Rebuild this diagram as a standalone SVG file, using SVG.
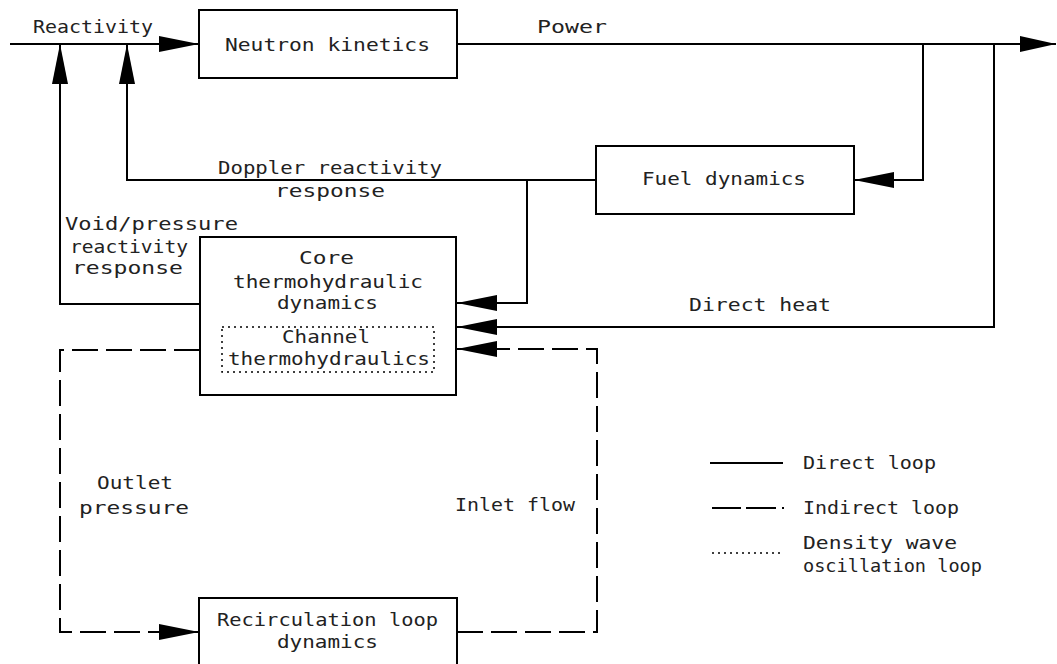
<svg xmlns="http://www.w3.org/2000/svg" width="1057" height="664" viewBox="0 0 1057 664">
<style>
.box{fill:#fff;stroke:#000;stroke-width:2}
.ln{fill:none;stroke:#000;stroke-width:2}
.dash{fill:none;stroke:#000;stroke-width:2;stroke-dasharray:26 8}
.dot{fill:none;stroke:#000;stroke-width:1.5;stroke-dasharray:2 4}
.t{font-family:"DejaVu Sans Mono","Liberation Mono",monospace;font-size:17px;fill:#222;dominant-baseline:central}
</style>
<defs>
<marker id="ah" markerUnits="userSpaceOnUse" viewBox="0 0 40 16" markerWidth="40" markerHeight="16" refX="40" refY="8" orient="auto">
<path d="M0,0 L40,8 L0,16 Z" fill="#000"/>
</marker>
<marker id="ah2" markerUnits="userSpaceOnUse" viewBox="0 0 36 16" markerWidth="36" markerHeight="16" refX="36" refY="8" orient="auto">
<path d="M0,0 L36,8 L0,16 Z" fill="#000"/>
</marker>
</defs>
<rect width="1057" height="664" fill="#fff"/>
<g id="connectors">
<path class="ln" d="M10,44 H199" marker-end="url(#ah)"/>
<path class="ln" d="M457,44 H1056" marker-end="url(#ah2)"/>
<path class="ln" d="M923,44 V180 H854" marker-end="url(#ah)"/>
<path class="ln" d="M994,44 V327 H457" marker-end="url(#ah)"/>
<path class="ln" d="M596,180 H127 V44" marker-end="url(#ah)"/>
<path class="ln" d="M527,180 V303 H457" marker-end="url(#ah)"/>
<path class="ln" d="M200,304 H60 V44" marker-end="url(#ah)"/>
<path class="dash" d="M200,350 H60 V632 H199" marker-end="url(#ah)"/>
<path class="dash" d="M457,632 H597 V349 H457" marker-end="url(#ah)"/>
<path class="dot" d="M200,350 H222"/>
<path class="dot" d="M434,349 H457"/>
</g>
<g id="neutron-kinetics">
<rect class="box" x="199" y="10" width="258" height="68"/>
<text class="t" x="225" y="45" textLength="205" lengthAdjust="spacingAndGlyphs">Neutron kinetics</text>
</g>
<g id="fuel-dynamics">
<rect class="box" x="596" y="146" width="258" height="68"/>
<text class="t" x="642" y="179" textLength="164" lengthAdjust="spacingAndGlyphs">Fuel dynamics</text>
</g>
<g id="core">
<rect class="box" x="200" y="237" width="256" height="158"/>
<text class="t" x="299" y="258" textLength="55" lengthAdjust="spacingAndGlyphs">Core</text>
<text class="t" x="233" y="282" textLength="190" lengthAdjust="spacingAndGlyphs">thermohydraulic</text>
<text class="t" x="277" y="303" textLength="101" lengthAdjust="spacingAndGlyphs">dynamics</text>
</g>
<g id="channel">
<rect class="dot" x="222" y="327" width="212" height="45"/>
<text class="t" x="282" y="337" textLength="88" lengthAdjust="spacingAndGlyphs">Channel</text>
<text class="t" x="228" y="359" textLength="202" lengthAdjust="spacingAndGlyphs">thermohydraulics</text>
</g>
<g id="recirculation">
<rect class="box" x="199" y="598" width="258" height="90"/>
<text class="t" x="217" y="620" textLength="221" lengthAdjust="spacingAndGlyphs">Recirculation loop</text>
<text class="t" x="277" y="642" textLength="101" lengthAdjust="spacingAndGlyphs">dynamics</text>
</g>
<g id="labels">
<text class="t" x="33" y="27" textLength="120" lengthAdjust="spacingAndGlyphs">Reactivity</text>
<text class="t" x="537" y="27" textLength="70" lengthAdjust="spacingAndGlyphs">Power</text>
<text class="t" x="218" y="168" textLength="224" lengthAdjust="spacingAndGlyphs">Doppler reactivity</text>
<text class="t" x="275" y="191" textLength="110" lengthAdjust="spacingAndGlyphs">response</text>
<text class="t" x="65" y="224" textLength="173" lengthAdjust="spacingAndGlyphs">Void/pressure</text>
<text class="t" x="70" y="247" textLength="118" lengthAdjust="spacingAndGlyphs">reactivity</text>
<text class="t" x="72" y="268" textLength="111" lengthAdjust="spacingAndGlyphs">response</text>
<text class="t" x="689" y="305" textLength="142" lengthAdjust="spacingAndGlyphs">Direct heat</text>
<text class="t" x="97" y="483" textLength="76" lengthAdjust="spacingAndGlyphs">Outlet</text>
<text class="t" x="79" y="508" textLength="110" lengthAdjust="spacingAndGlyphs">pressure</text>
<text class="t" x="455" y="505" textLength="120" lengthAdjust="spacingAndGlyphs">Inlet flow</text>
</g>
<g id="legend">
<path class="ln" d="M710,463 H783"/>
<text class="t" x="803" y="463" textLength="133" lengthAdjust="spacingAndGlyphs">Direct loop</text>
<path class="ln" d="M712,508 H785" style="stroke-dasharray:29 5 30 6 2 20"/>
<text class="t" x="803" y="508" textLength="156" lengthAdjust="spacingAndGlyphs">Indirect loop</text>
<path class="dot" d="M712,553 H780"/>
<text class="t" x="803" y="543" textLength="154" lengthAdjust="spacingAndGlyphs">Density wave</text>
<text class="t" x="803" y="566" textLength="179" lengthAdjust="spacingAndGlyphs">oscillation loop</text>
</g>
</svg>
